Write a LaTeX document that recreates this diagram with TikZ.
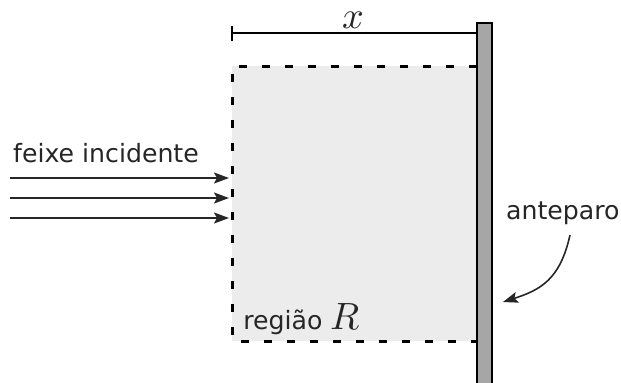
\documentclass[tikz,border=0pt]{standalone}
\usepackage{fontspec}
\setmainfont{DejaVu Sans}
\usepackage{unicode-math}
\setmathfont{Latin Modern Math}
\usetikzlibrary{arrows.meta}
\begin{document}
\begin{tikzpicture}[x=0.5pt,y=-0.5pt,
  lbl/.style={font=\fontsize{12.6}{15}\selectfont, inner sep=0pt, text=black!85},
  mth/.style={font=\fontsize{19}{22}\selectfont, inner sep=0pt, text=black!85},
  beam/.style={line width=0.9pt, draw=black!85, -{Stealth[length=7.5pt,width=5.5pt,inset=1.5pt]}},
  dashb/.style={line width=1.5pt, dash pattern=on 4pt off 7.5pt}]
\useasboundingbox (0,0) rectangle (621,382);
% region
\fill[gray!15] (232,66) rectangle (477,341);
\draw[dashb] (477,66) -- (232,66) -- (232,341) -- (477,341);
% screen
\draw[fill=gray!70, line width=0.6pt] (477,23) rectangle (492,390);
\coordinate (scrL) at (477,33);
% dimension
\coordinate (dimL) at (232,33);
\draw[line width=0.6pt] (232,26) -- (232,41);
\draw[line width=0.6pt] (dimL) -- (scrL);
\node[mth] (x) at (353,20) {$x$};
% beams
\foreach \y/\n in {178/a,198/b,218/c}{
  \coordinate (s\n) at (10,\y);
  \coordinate (e\n) at (229,\y);
  \draw[beam] (s\n) -- (e\n);
}
\node[lbl] (feixe) at (106,153) {feixe incidente};
\node[lbl, anchor=east] (ant) at (620,213) {anteparo};
\node[lbl, anchor=base west] (reg) at (243,329) {região \fontsize{19}{22}\selectfont$R$};
\coordinate (as) at (570,235);
\coordinate (ae) at (503,302);
\draw[line width=0.8pt, draw=black!85, -{Stealth[length=7.5pt,width=5.5pt,inset=1.5pt]}] (as) .. controls (560,280) and (540,290) .. (ae);
\end{tikzpicture}
\end{document}
